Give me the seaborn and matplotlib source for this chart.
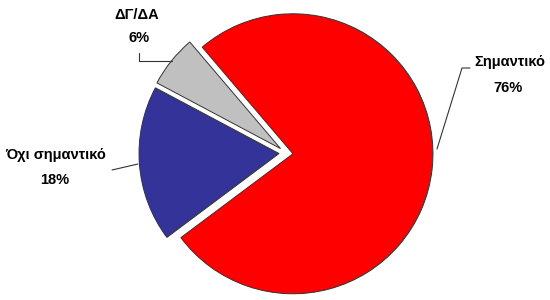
import matplotlib
matplotlib.use("Agg")
import matplotlib.pyplot as plt
import seaborn as sns

categories = ["Σημαντικό", "Όχι σημαντικό", "ΔΓ/ΔΑ"]
values = [76, 18, 6]
pct_labels = ["76%", "18%", "6%"]
colors = ["#FF0000", "#333399", "#C0C0C0"]

sns.set_theme(style="white")
plt.rcParams["font.family"] = ["Liberation Sans", "DejaVu Sans"]

W, H = 550, 300
R = 140.0          # pie radius in pixels
CX, CY = 286, 153  # pie centre in pixels (from top-left)

def d(px, py):
    return ((px - CX) / R, (CY - py) / R)

fig = plt.figure(figsize=(5.5, 3.0), dpi=100)
ax = fig.add_axes([0, 0, 1, 1])
ax.pie(values, colors=colors, startangle=130.4, counterclock=False,
       explode=[0.05, 0.05, 0.05], radius=1.0,
       wedgeprops=dict(edgecolor="#333333", linewidth=0.7))
ax.set_xlim(-CX / R, (W - CX) / R)
ax.set_ylim(-(H - CY) / R, CY / R)
ax.set_aspect("auto")
ax.axis("off")

# label positions (pixels) : name centre, percent centre
label_pos = [((510, 62), (508, 88)),
             ((56, 155), (55, 180)),
             ((137, 15), (139, 38))]
for cat, pct, (p1, p2) in zip(categories, pct_labels, label_pos):
    ax.text(*d(*p1), "\u200a".join(cat) if False else cat, ha="center",
            va="center", fontsize=10.5, fontweight="bold", color="black")
    ax.text(*d(*p2), pct, ha="center", va="center", fontsize=10.5,
            fontweight="bold", color="black")

# leader lines (pixels)
leaders = [[(470, 68), (462, 68), (437, 149)],
           [(112, 170), (138, 164)],
           [(139, 53), (139, 61), (172, 61)]]
for pts in leaders:
    xs, ys = zip(*[d(*p) for p in pts])
    ax.plot(xs, ys, color="#333333", linewidth=0.8)

fig.savefig("out.png", dpi=100)
